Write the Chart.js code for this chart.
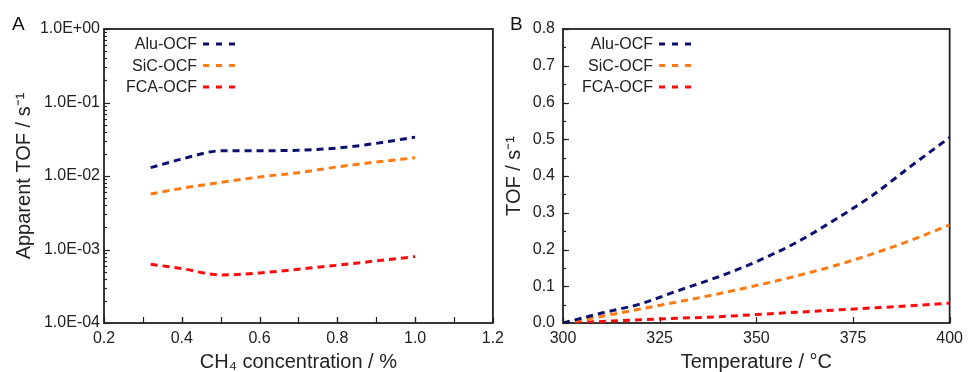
<!DOCTYPE html>
<html>
<head>
<meta charset="utf-8">
<script src="https://cdn.jsdelivr.net/npm/chart.js@4.4.0/dist/chart.umd.min.js"></script>
<style>
  html, body { margin: 0; padding: 0; background: #fff; }
  body { width: 969px; height: 372px; position: relative; overflow: hidden; font-family: 'Liberation Sans', Arial, sans-serif; }
  .panel { position: absolute; top: 0; height: 372px; }
  #wrapA { left: 0; width: 510px; }
  #wrapB { left: 500px; width: 469px; }
  .tag { position: absolute; font-size: 19px; line-height: 1; color: #111; }
</style>
</head>
<body>
<div class="panel" id="wrapA"><canvas id="chartA" width="510" height="372"></canvas></div>
<div class="panel" id="wrapB"><canvas id="chartB" width="469" height="372"></canvas></div>
<div class="tag" style="left:12px;top:14px;">A</div>
<div class="tag" style="left:510px;top:14px;">B</div>
<script>
/* ── Data: panel A (CH4 concentration) ── */
const concA = [0.32, 0.4, 0.5, 0.6, 0.7, 0.8, 0.9, 1.0];
const aluA  = [0.0130, 0.0170, 0.0220, 0.0221, 0.0224, 0.0240, 0.0278, 0.0338];
const sicA  = [0.0057, 0.0068, 0.0082, 0.0097, 0.0111, 0.0133, 0.0155, 0.0177];
const fcaA  = [6.3e-4, 5.5e-4, 4.5e-4, 4.8e-4, 5.4e-4, 6.1e-4, 7.0e-4, 8.0e-4];
const yTicksA = [1e-4, 1e-3, 1e-2, 1e-1, 1];

/* ── Data: panel B (temperature) ── */
const tempB = [300, 310, 320, 330, 340, 350, 360, 370, 380, 390, 400];
const aluB  = [0.000, 0.027, 0.052, 0.089, 0.125, 0.167, 0.217, 0.279, 0.347, 0.427, 0.505];
const sicB  = [0.000, 0.018, 0.038, 0.058, 0.079, 0.102, 0.127, 0.155, 0.188, 0.225, 0.267];
const fcaB  = [0.000, 0.004, 0.009, 0.013, 0.017, 0.023, 0.029, 0.035, 0.041, 0.047, 0.054];

const labels = ['Alu-OCF', 'SiC-OCF', 'FCA-OCF'];
const colors = ['#0b1070', '#ff7a12', '#ff0a0a'];

Chart.defaults.font.family = "'Liberation Sans', Arial, sans-serif";
Chart.defaults.color = '#222';

/* ── Frame + inward tick marks ── */
const frame = {
  id: 'frame',
  beforeDatasetsDraw(chart, args, o) {
    const { ctx, chartArea: a } = chart;
    ctx.save();
    ctx.strokeStyle = '#222';
    ctx.lineWidth = 1.2;
    ['x', 'y'].forEach(id => {
      const s = chart.scales[id];
      const c = o[id];
      const marks = s.ticks.map(t => [t.value, c.major]);
      if (s.type === 'logarithmic') {
        for (let e = Math.round(Math.log10(s.min)); e < Math.round(Math.log10(s.max)); e++)
          for (let d = 2; d < 10; d++) marks.push([d * Math.pow(10, e), c.minor]);
      } else if (c.step) {
        for (let v = s.min + c.step; v < s.max - 1e-9; v += c.step) marks.push([v, c.minor]);
      }
      marks.forEach(([v, len]) => {
        const p = Math.round(s.getPixelForValue(v)) + 0.5;
        ctx.beginPath();
        if (id === 'x') { ctx.moveTo(p, a.bottom); ctx.lineTo(p, a.bottom - len); }
        else { ctx.moveTo(a.left, p); ctx.lineTo(a.left + len, p); }
        ctx.stroke();
      });
    });
    ctx.lineWidth = 1.8;
    ctx.strokeRect(a.left, a.top, a.width, a.height);
    ctx.restore();
  }
};

/* ── Legend inside the plot: text, then dashed sample ── */
const keyBox = {
  id: 'keyBox',
  afterDraw(chart, args, o) {
    const { ctx, chartArea: a } = chart;
    ctx.save();
    ctx.font = "16px 'Liberation Sans', Arial, sans-serif";
    ctx.textAlign = 'right';
    ctx.textBaseline = 'middle';
    chart.data.datasets.forEach((ds, i) => {
      const x = a.left + o.textRight;
      const y = a.top + o.top + i * o.gap;
      ctx.fillStyle = '#222';
      ctx.fillText(ds.label, x, y);
      ctx.strokeStyle = ds.borderColor;
      ctx.lineWidth = 3;
      ctx.setLineDash([6, 7]);
      ctx.beginPath();
      ctx.moveTo(x + 6, y - 1);
      ctx.lineTo(x + 6 + o.len, y - 1);
      ctx.stroke();
    });
    ctx.restore();
  }
};

function series(xs, ys, i) {
  return {
    label: labels[i],
    data: xs.map((x, k) => ({ x, y: ys[k] })),
    borderColor: colors[i],
    borderWidth: 3,
    borderDash: [7, 5],
    pointRadius: 0,
    cubicInterpolationMode: 'monotone',
    fill: false
  };
}

function sci(v) {
  const e = Math.round(Math.log10(v));
  return '1.0E' + (e < 0 ? '-' : '+') + String(Math.abs(e)).padStart(2, '0');
}

const tickFont = { size: 16 };
const titleFont = { size: 20, lineHeight: 1 };

/* ── Panel A ── */
new Chart(document.getElementById('chartA'), {
  type: 'line',
  data: { datasets: [series(concA, aluA, 0), series(concA, sicA, 1), series(concA, fcaA, 2)] },
  options: {
    responsive: false,
    animation: false,
    layout: { padding: { top: 29, right: 16, bottom: 0, left: 0 } },
    plugins: {
      legend: { display: false },
      tooltip: { enabled: false },
      frame: { x: { major: 6, minor: 6, step: 0.1 }, y: { major: 6, minor: 3 } },
      keyBox: { textRight: 93, top: 16, gap: 21.5, len: 34 }
    },
    scales: {
      x: {
        type: 'linear', min: 0.2, max: 1.2,
        ticks: { stepSize: 0.2, padding: 6, autoSkip: false, maxRotation: 0, font: tickFont, callback: v => v.toFixed(1) },
        grid: { display: false, drawTicks: false },
        border: { display: false },
        title: { display: true, text: 'CH₄ concentration / %', font: titleFont, padding: { top: 0, bottom: 0 } },
        afterFit: s => { s.height = 49; }
      },
      y: {
        type: 'logarithmic', min: 1e-4, max: 1,
        afterBuildTicks: s => { s.ticks = yTicksA.map(v => ({ value: v })); },
        ticks: { padding: 4, autoSkip: false, font: tickFont, callback: v => sci(v) },
        grid: { display: false, drawTicks: false },
        border: { display: false },
        title: { display: true, text: 'Apparent TOF / s⁻¹', font: titleFont, padding: { top: 14.5, bottom: 0 } },
        afterFit: s => { s.width = 104; }
      }
    }
  },
  plugins: [frame, keyBox]
});

/* ── Panel B ── */
new Chart(document.getElementById('chartB'), {
  type: 'line',
  data: { datasets: [series(tempB, aluB, 0), series(tempB, sicB, 1), series(tempB, fcaB, 2)] },
  options: {
    responsive: false,
    animation: false,
    layout: { padding: { top: 29, right: 16, bottom: 0, left: 0 } },
    plugins: {
      legend: { display: false },
      tooltip: { enabled: false },
      frame: { x: { major: 6, minor: 6 }, y: { major: 6, minor: 3, step: 0.05 } },
      keyBox: { textRight: 90, top: 16, gap: 21.5, len: 34 }
    },
    scales: {
      x: {
        type: 'linear', min: 300, max: 400,
        ticks: { stepSize: 25, padding: 6, autoSkip: false, maxRotation: 0, font: tickFont },
        grid: { display: false, drawTicks: false },
        border: { display: false },
        title: { display: true, text: 'Temperature / °C', font: titleFont, padding: { top: 0, bottom: 0 } },
        afterFit: s => { s.height = 49; }
      },
      y: {
        type: 'linear', min: 0, max: 0.8,
        ticks: { stepSize: 0.1, padding: 8, autoSkip: false, font: tickFont, callback: v => v.toFixed(1) },
        grid: { display: false, drawTicks: false },
        border: { display: false },
        title: { display: true, text: 'TOF / s⁻¹', font: titleFont, padding: { top: 4.5, bottom: 0 } },
        afterFit: s => { s.width = 63; }
      }
    }
  },
  plugins: [frame, keyBox]
});
</script>
</body>
</html>
